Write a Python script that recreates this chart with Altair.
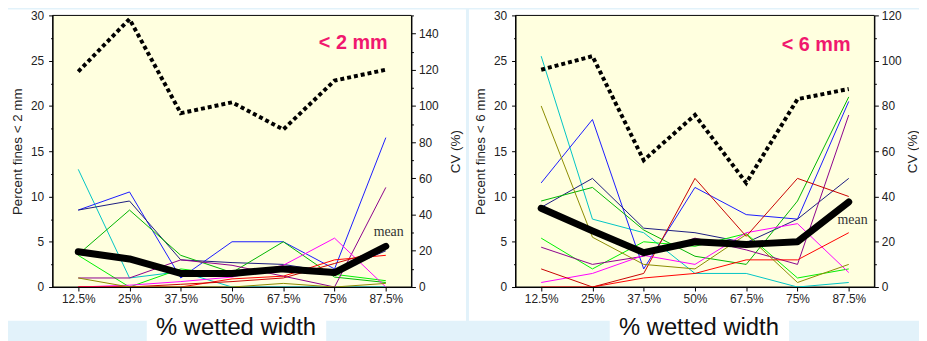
import altair as alt
import pandas as pd

positions = ["12.5%", "25%", "37.5%", "50%", "67.5%", "75%", "87.5%"]

series_names = ["cyan", "blue", "navy", "green", "lime", "purple", "magenta", "red", "darkred", "olive"]
series_colors = ["#00c4c4", "#1a1aff", "#1a1a80", "#00b400", "#00f000", "#8c008c", "#ff00ff", "#ff0000", "#c80000", "#8c8c00"]

# Panel 1: percent fines < 2 mm
p2_cyan    = [13.0, 1.0, 1.7, 0.0, 0.0, 0.0, 0.0]
p2_blue    = [8.5, 10.5, 1.0, 5.0, 5.0, 2.0, 16.5]
p2_navy    = [8.5, 9.5, 3.0, 2.7, 2.5, 1.6, 4.0]
p2_green   = [3.6, 8.5, 3.5, 1.6, 5.0, 1.1, 0.5]
p2_lime    = [3.5, 0.0, 2.0, 1.3, 1.8, 1.4, 0.7]
p2_purple  = [1.0, 1.0, 3.0, 2.4, 1.2, 0.0, 11.0]
p2_magenta = [0.0, 0.2, 0.6, 1.1, 2.4, 5.4, 0.0]
p2_red     = [0.0, 0.0, 0.0, 0.9, 1.2, 3.0, 3.5]
p2_darkred = [0.0, 0.0, 0.3, 0.6, 1.0, 2.6, 4.2]
p2_olive   = [1.0, 0.0, 0.0, 0.0, 0.4, 0.0, 0.4]
p2_mean    = [3.9, 3.1, 1.5, 1.5, 2.0, 1.6, 4.5]
p2_cv      = [119, 148, 96, 102, 87, 114, 120]

# Panel 2: percent fines < 6 mm
p6_cyan    = [25.5, 7.5, 6.0, 1.5, 1.5, 0.0, 0.5]
p6_blue    = [11.5, 18.5, 2.0, 11.0, 8.0, 7.5, 20.5]
p6_navy    = [8.8, 12.0, 6.5, 6.0, 4.9, 7.5, 12.0]
p6_green   = [9.5, 11.0, 6.3, 3.4, 2.5, 9.5, 21.0]
p6_lime    = [5.4, 2.0, 5.0, 4.5, 5.9, 1.0, 2.0]
p6_purple  = [4.4, 2.5, 3.4, 5.4, 4.1, 2.5, 19.0]
p6_magenta = [0.5, 1.5, 3.5, 2.5, 6.0, 7.0, 1.6]
p6_red     = [0.0, 0.0, 1.0, 1.5, 3.0, 3.0, 6.0]
p6_darkred = [2.0, 0.0, 1.5, 12.0, 5.6, 12.0, 10.0]
p6_olive   = [20.0, 5.5, 2.5, 2.0, 5.8, 0.5, 2.5]
p6_mean    = [8.7, 6.2, 3.8, 5.0, 4.7, 5.0, 9.4]
p6_cv      = [96, 102, 56, 76, 46, 83, 87.5]

W, H = 362, 274
FONT = "Liberation Sans"


def make_panel(series_lists, mean_vals, cv_vals, cv_max, fines_title, tag,
               mean_dx, mean_dy, tag_y, left_ext, right_ext, cv_title_pad):
    thin = pd.DataFrame([
        {"pos": positions[i], "value": v, "series": name}
        for name, vals in zip(series_names, series_lists)
        for i, v in enumerate(vals)
    ])
    mean_df = pd.DataFrame({"pos": positions, "value": mean_vals})
    cv_df = pd.DataFrame({"pos": positions, "cv": cv_vals})
    last_df = mean_df.tail(1)
    one = pd.DataFrame({"k": [0]})

    x_axis = alt.Axis(title=None, labelAngle=0, domainColor="black", tickColor="black",
                      tickSize=4, labelPadding=3, labelFontSize=12, labelFont=FONT,
                      labelColor="#222", grid=False, zindex=1)
    x_enc = alt.X("pos:N", sort=positions, scale=alt.Scale(type="point", padding=0.5), axis=x_axis)

    fines_vals = [i * 2.5 for i in range(13)]
    y_axis = alt.Axis(title=fines_title, values=fines_vals,
                      labelExpr="datum.value % 5 === 0 ? datum.label : ''",
                      tickSize={"condition": {"test": "datum.value % 5 === 0", "value": 4}, "value": 2},
                      domainColor="black", tickColor="black", labelPadding=5,
                      labelFontSize=12, labelFont=FONT, labelColor="#222",
                      titleFont=FONT, titleFontSize=13.5, titleFontWeight="normal",
                      titleColor="#222", titlePadding=6, grid=False, zindex=1)
    y_enc = alt.Y("value:Q", scale=alt.Scale(domain=[0, 30], nice=False), axis=y_axis)

    cv_vals_ticks = list(range(0, cv_max + 1, 10))
    cv_axis = alt.Axis(orient="right", title="CV (%)", values=cv_vals_ticks,
                       labelExpr="datum.value % 20 === 0 ? datum.label : ''",
                       tickSize={"condition": {"test": "datum.value % 20 === 0", "value": 4}, "value": 2},
                       domainColor="black", tickColor="black", labelPadding=3,
                       labelFontSize=12, labelFont=FONT, labelColor="#222",
                       titleFont=FONT, titleFontSize=13.5, titleFontWeight="normal",
                       titleColor="#222", titlePadding=cv_title_pad, titleAngle=270,
                       titleBaseline="top", grid=False, zindex=1)

    white = alt.Chart(one).mark_rect(fill="white").encode(
        x=alt.value(-left_ext), x2=alt.value(W + right_ext), y=alt.value(-6), y2=alt.value(308))
    box = alt.Chart(one).mark_rect(fill="white").encode(
        x=alt.value(95), x2=alt.value(276), y=alt.value(300), y2=alt.value(330))
    plotbg = alt.Chart(one).mark_rect(fill="#ffffdf", stroke="black", strokeWidth=1).encode(
        x=alt.value(0), x2=alt.value(W), y=alt.value(0), y2=alt.value(H))

    thin_lines = alt.Chart(thin).mark_line(strokeWidth=1).encode(
        x=x_enc, y=y_enc,
        color=alt.Color("series:N", scale=alt.Scale(domain=series_names, range=series_colors), legend=None),
        detail="series:N")
    mean_line = alt.Chart(mean_df).mark_line(color="black", strokeWidth=7,
                                             strokeJoin="round", strokeCap="round").encode(x=x_enc, y=y_enc)
    mean_text = alt.Chart(last_df).mark_text(text="mean", font="Liberation Serif", fontSize=14,
                                             color="#333", align="right", baseline="middle",
                                             dx=mean_dx, dy=mean_dy).encode(x=x_enc, y=y_enc)
    fines_layer = alt.layer(thin_lines, mean_line, mean_text)

    cv_line = alt.Chart(cv_df).mark_line(color="black", strokeWidth=4, strokeDash=[4, 3],
                                         strokeCap="butt").encode(
        x=x_enc,
        y=alt.Y("cv:Q", scale=alt.Scale(domain=[0, cv_max], nice=False), axis=cv_axis))

    tag_text = alt.Chart(one).mark_text(text=tag, font=FONT, fontSize=20, fontWeight="bold",
                                        color="#f0186e", align="right", baseline="alphabetic").encode(
        x=alt.value(W - 24), y=alt.value(tag_y))
    xlabel = alt.Chart(one).mark_text(text="% wetted width", font=FONT, fontSize=24,
                                      color="#111", align="center", baseline="alphabetic").encode(
        x=alt.value(185), y=alt.value(322))

    return alt.layer(white, box, plotbg, fines_layer, cv_line, tag_text, xlabel).resolve_scale(
        y="independent").properties(width=W, height=H)


left = make_panel(
    [p2_cyan, p2_blue, p2_navy, p2_green, p2_lime, p2_purple, p2_magenta, p2_red, p2_darkred, p2_olive],
    p2_mean, p2_cv, 150, "Percent fines < 2 mm", "< 2 mm",
    mean_dx=18, mean_dy=-14, tag_y=34, left_ext=45, right_ext=55, cv_title_pad=10)

right = make_panel(
    [p6_cyan, p6_blue, p6_navy, p6_green, p6_lime, p6_purple, p6_magenta, p6_red, p6_darkred, p6_olive],
    p6_mean, p6_cv, 120, "Percent fines < 6 mm", "< 6 mm",
    mean_dx=19, mean_dy=18, tag_y=36, left_ext=47, right_ext=45, cv_title_pad=4)

chart = alt.hconcat(left, right, spacing=3).properties(
    background="#e2f2fa", padding=0
).configure_view(stroke=None)

chart.save("out.html", embed_options={"renderer": "svg", "actions": False})
